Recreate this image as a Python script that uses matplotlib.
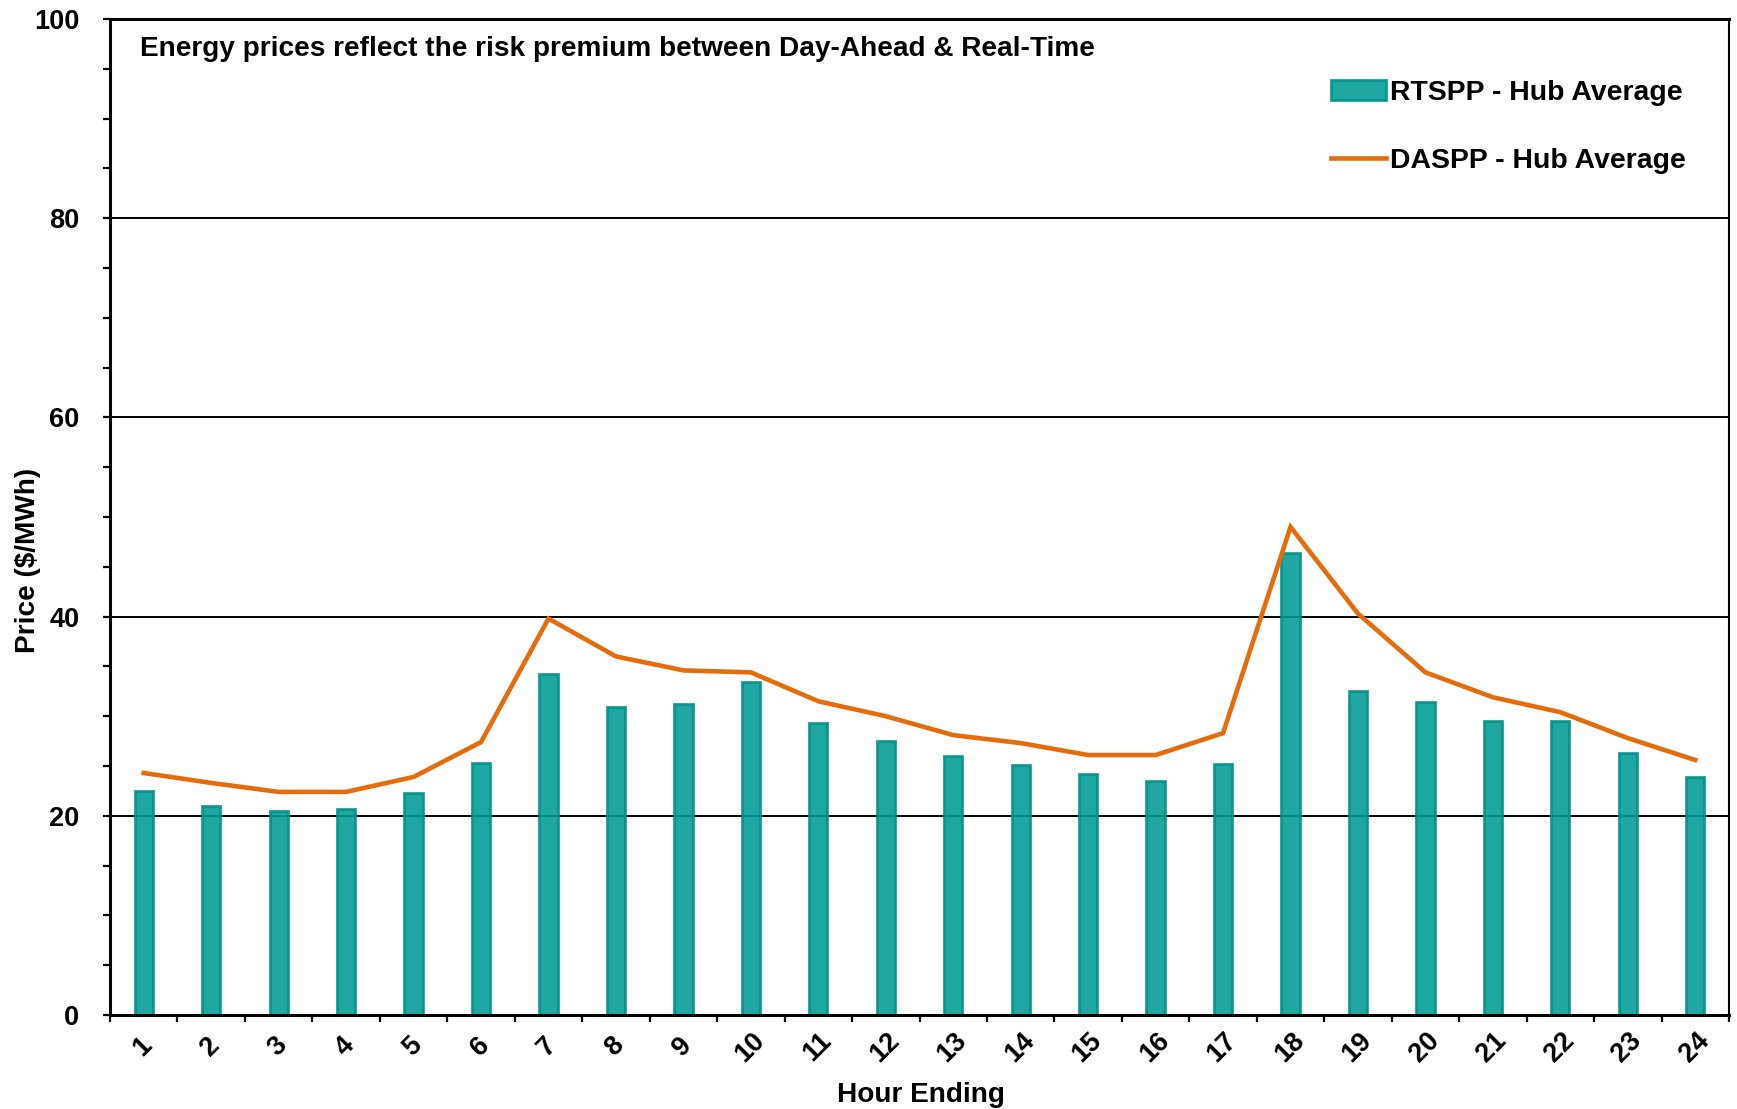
import matplotlib
matplotlib.use("Agg")
import matplotlib.pyplot as plt
from matplotlib.ticker import MultipleLocator, FixedLocator, NullFormatter
from matplotlib.transforms import ScaledTranslation

plt.rcParams['font.family'] = ['Liberation Sans', 'DejaVu Sans']
plt.rcParams['font.weight'] = 'bold'

# hour ending 1..24
hours = list(range(1, 25))
hour_labels = [str(h) for h in hours]

# RTSPP hub average ($/MWh), bars
rtspp = [22.5, 21.0, 20.5, 20.7, 22.3, 25.3, 34.2, 30.9, 31.2, 33.4, 29.3, 27.5,
         26.0, 25.1, 24.2, 23.5, 25.2, 46.4, 32.5, 31.4, 29.5, 29.5, 26.3, 23.9]

# DASPP hub average ($/MWh), line
daspp = [24.3, 23.3, 22.4, 22.4, 23.9, 27.4, 39.8, 36.0, 34.6, 34.4, 31.5, 30.0,
         28.1, 27.3, 26.1, 26.1, 28.3, 49.0, 40.3, 34.4, 31.9, 30.4, 27.8, 25.6]

y_ticks = [0, 20, 40, 60, 80, 100]

W, H = 1737, 1109
fig = plt.figure(figsize=(W / 100, H / 100), dpi=100)
ax_w, ax_h = 1729 - 110, 1015 - 19
ax = fig.add_axes([110 / W, 1 - 1015 / H, ax_w / W, ax_h / H])

# gridlines under the (slightly see-through) bars
for yv in y_ticks[1:-1]:
    ax.axhline(yv, color='black', lw=1.4, zorder=1)

bars = ax.bar(hours, rtspp, width=0.27, color='#009B94', edgecolor='#008F88',
              linewidth=2, alpha=0.88, zorder=2, label='RTSPP - Hub Average')
line, = ax.plot(hours, daspp, color='#E46C0A', lw=3.3, zorder=3,
                solid_joinstyle='miter', label='DASPP - Hub Average')

ax.set_xlim(0.5, 24.5)
ax.set_ylim(0, 100)

# y axis: majors every 20, minors every 5, ticks outward
ax.yaxis.set_major_locator(FixedLocator(y_ticks))
ax.yaxis.set_minor_locator(MultipleLocator(5))
ax.tick_params(axis='y', which='both', direction='out', length=5, width=1.6,
               labelsize=19.5, pad=17)

# x axis: ticks on the category boundaries, labels at centres
ax.xaxis.set_major_locator(FixedLocator([h + 0.5 for h in [0] + hours]))
ax.xaxis.set_major_formatter(NullFormatter())
ax.xaxis.set_minor_locator(FixedLocator(hours))
ax.set_xticklabels(hour_labels, minor=True, rotation=45, ha='center',
                   va='center', fontsize=19.5)
ax.tick_params(axis='x', which='major', direction='out', length=5, width=1.6)
ax.tick_params(axis='x', which='minor', length=0, pad=23)
shift = ScaledTranslation(-1 / 100, 0, fig.dpi_scale_trans)
for lbl in ax.xaxis.get_minorticklabels():
    lbl.set_transform(lbl.get_transform() + shift)

for side in ['left', 'bottom', 'top']:
    ax.spines[side].set_linewidth(2.2)
ax.spines['right'].set_linewidth(1.5)

ax.set_ylabel('Price ($/MWh)', fontsize=20.2, fontweight='bold')
ax.yaxis.set_label_coords(-(110 - 41) / ax_w, (1015 - 560) / ax_h)
ax.set_xlabel('Hour Ending', fontsize=20.2, fontweight='bold')
ax.xaxis.set_label_coords((921 - 110) / ax_w, -(1082 - 1015) / ax_h)

ax.text(140 / W, 1 - 49.5 / H, 'Energy prices reflect the risk premium between Day-Ahead & Real-Time',
        transform=fig.transFigure, fontsize=20.2, fontweight='bold', va='center', ha='left')

leg = ax.legend([bars, line], ['RTSPP - Hub Average', 'DASPP - Hub Average'],
                loc='upper left', bbox_to_anchor=(1331 / W, 1 - 80 / H),
                bbox_transform=fig.transFigure, frameon=False, fontsize=20.4,
                handlelength=1.94, handletextpad=0.15, labelspacing=1.48,
                borderpad=0, borderaxespad=0)

fig.savefig('out.png', dpi=100)
